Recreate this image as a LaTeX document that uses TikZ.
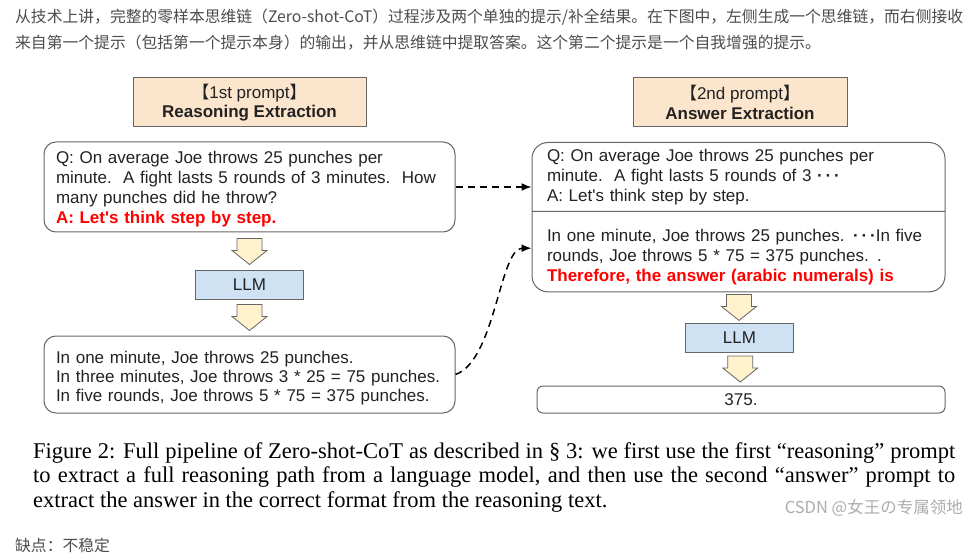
\documentclass[tikz,border=0pt]{standalone}
\usepackage{fontspec}
\setmainfont{Liberation Sans}
\newfontfamily\capfont{Liberation Serif}
\newfontfamily\cjk{Noto Sans CJK SC}
\usetikzlibrary{arrows.meta,calc,shapes.multipart}
\definecolor{headfill}{HTML}{FCE5CD}
\definecolor{llmfill}{HTML}{CFE2F3}
\definecolor{arrowfill}{HTML}{FFF2CC}
\definecolor{edgegray}{HTML}{666666}
\definecolor{inktext}{HTML}{222222}
\definecolor{webtext}{HTML}{4D4D4D}
\definecolor{promptred}{HTML}{FF0000}
\newcommand{\redline}[1]{\textcolor{promptred}{\bfseries #1}}
\newcommand{\skipdots}{{\bfseries ·\,·\,·}}

\begin{document}
\begin{tikzpicture}[x=1pt, y=-1pt,
  head/.style={draw=edgegray, line width=1pt, fill=headfill, minimum height=49pt, inner sep=0pt, align=center, text=inktext, font=\fontsize{17}{19.5}\selectfont},
  box/.style={draw=edgegray, line width=1pt, rounded corners=12pt, inner xsep=12pt, inner ysep=0pt, align=left, text=inktext, font=\fontsize{17}{20}\selectfont},
  llm/.style={draw=edgegray, line width=1pt, fill=llmfill, minimum width=108pt, minimum height=28pt, inner sep=0pt, text=inktext, font=\fontsize{17}{20}\selectfont},
  web/.style={anchor=west, inner sep=0pt, text=webtext, font=\cjk\fontsize{15.8}{16}\selectfont},
  link/.style={draw, dashed, dash pattern=on 7pt off 5pt, line width=1.5pt, -{Latex[length=10pt,width=8pt]}},
  yarrow/.pic={\draw[edgegray, fill=arrowfill, line width=0.8pt] (-12.5,-13) -- (12.5,-13) -- (12.5,-1) -- (17.5,-1) -- (0,13) -- (-17.5,-1) -- (-12.5,-1) -- cycle;}
]
  \fill[white] (0,0) rectangle (974,553);
  \useasboundingbox (0,0) rectangle (974,553);

  \node[web] (intro1) at (15,17) {从技术上讲，完整的零样本思维链（Zero-shot-CoT）过程涉及两个单独的提示/补全结果。在下图中，左侧生成一个思维链，而右侧接收};
  \node[web] (intro2) at (15,43) {来自第一个提示（包括第一个提示本身）的输出，并从思维链中提取答案。这个第二个提示是一个自我增强的提示。};

  \node[head, minimum width=233pt] (head1) at (249.5,102.5) {{\cjk 【}1st prompt{\cjk 】}\\\textbf{Reasoning Extraction}};
  \node[head, minimum width=214pt] (head2) at (740,102.5) {{\cjk 【}2nd prompt{\cjk 】}\\\textbf{Answer Extraction}};

  \node[box, text width=387pt, minimum height=90pt] (q1) at (249.5,187) {\rule{0pt}{16pt}Q: On average Joe throws 25 punches per\\minute.\ \ A fight lasts 5 rounds of 3 minutes.\ \ How\\many punches did he throw?\\\redline{A: Let\textquotesingle s think step by step.}};
  \node[llm] (llm1) at (249.5,285) {LLM};
  \node[box, text width=387pt, minimum height=77pt, font=\fontsize{17}{19}\selectfont] (a1) at (249.5,374.5) {\rule{0pt}{20pt}In one minute, Joe throws 25 punches.\\In three minutes, Joe throws 3 * 25 = 75 punches.\\In five rounds, Joe throws 5 * 75 = 375 punches.};

  \node[box, rectangle split, rectangle split parts=2, rounded corners=16pt, text width=383pt, inner xsep=15pt, inner ysep=6pt, anchor=north] (r2) at (738.5,142) {Q: On average Joe throws 25 punches per\\minute.\ \ A fight lasts 5 rounds of 3 \skipdots\\A: Let\textquotesingle s think step by step.
    \nodepart{two}\rule{0pt}{24pt}In one minute, Joe throws 25 punches. \skipdots In five\\rounds, Joe throws 5 * 75 = 375 punches. .\\\redline{Therefore, the answer (arabic numerals) is}};
  \node[llm, minimum height=29pt] (llm2) at (739.5,337.5) {LLM};
  \node[box, minimum width=408pt, minimum height=27pt, rounded corners=6pt, align=center] (ans) at (741,399.5) {375.};

  \pic at ($(q1.south)!0.5!(llm1.north)$) {yarrow};
  \pic at ($(llm1.south)!0.5!(a1.north)$) {yarrow};
  \pic at ($(r2.south)!0.5!(llm2.north)$) {yarrow};
  \pic at ($(llm2.south)!0.5!(ans.north)$) {yarrow};

  \draw[link] (q1.east) -- (q1.east -| r2.west);
  \draw[link] (a1.east) .. controls +(40,-14) and +(-32,0) .. ($(r2.west)+(0,31)$);

  \node[anchor=north west, text width=922pt, align=justify, inner sep=0pt, font=\capfont\fontsize{22.5}{24.5}\selectfont] (cap) at (33,442) {Figure 2: Full pipeline of Zero-shot-CoT as described in \S\ 3: we first use the first “reasoning” prompt\linebreak to extract a full reasoning path from a language model, and then use the second “answer” prompt to\linebreak extract the answer in the correct format from the reasoning text.};
  \node[anchor=east, inner sep=0pt, text=black!32, font=\cjk\fontsize{16.5}{16.5}\selectfont] (mark) at (963,508) {CSDN @女王の专属领地};
  \node[web] (con) at (15,545) {缺点：不稳定};
\end{tikzpicture}
\end{document}
